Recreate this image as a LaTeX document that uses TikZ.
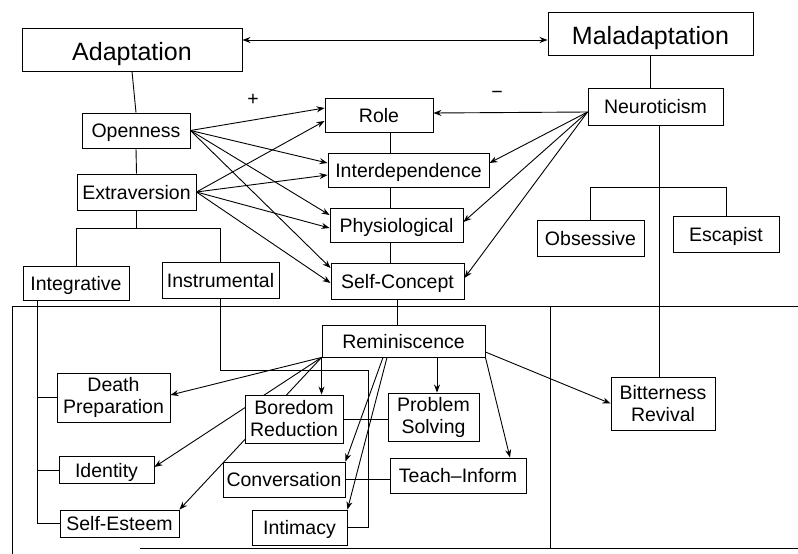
\documentclass[tikz,border=0pt]{standalone}
\usepackage{fontspec}
\setmainfont{Liberation Sans}
\usetikzlibrary{arrows.meta}
\pgfdeclarelayer{bg}
\pgfsetlayers{bg,main}
\begin{document}
\begin{tikzpicture}[x=1pt,y=-1pt,
  box/.style={draw, fill=white, line width=0.9pt, inner sep=0pt,
    font=\fontsize{19.5}{22}\selectfont, text height=16pt, text depth=2pt},
  tbox/.style={draw, fill=white, line width=0.9pt, inner sep=0pt, align=center,
    font=\fontsize{19.5}{22}\selectfont},
  bigbox/.style={draw, fill=white, line width=0.9pt, inner sep=0pt,
    font=\fontsize{25}{28}\selectfont, text height=22pt, text depth=1pt},
  conn/.style={line width=0.9pt},
  arr/.style={conn, -{Stealth[length=8pt,width=6pt]}},
  darr/.style={conn, {Stealth[length=8pt,width=6pt]}-{Stealth[length=8pt,width=6pt]}},
  sign/.style={font=\fontsize{19.5}{22}\selectfont, inner sep=0pt}
]
\useasboundingbox (0,0) rectangle (798,554);

% top level
\node[bigbox, minimum width=220pt, minimum height=43pt] (adapt) at (132,49.5) {Adaptation};
\node[bigbox, minimum width=205pt, minimum height=43pt] (mal) at (650.5,33.5) {Maladaptation};

% left traits
\node[box, minimum width=108pt, minimum height=35pt] (open) at (136,130.5) {Openness};
\node[box, minimum width=119pt, minimum height=36pt] (extra) at (136.5,192) {Extraversion};
\node[box, minimum width=106pt, minimum height=34pt] (integ) at (76,283) {Integrative};
\node[box, minimum width=117pt, minimum height=36pt] (instr) at (220.5,280) {Instrumental};

% modes
\node[box, minimum width=108pt, minimum height=34pt] (role) at (379,115) {Role};
\node[box, minimum width=161pt, minimum height=34pt] (inter) at (408.5,170) {Interdependence};
\node[box, minimum width=133pt, minimum height=34pt] (phys) at (396.5,225) {Physiological};
\node[box, minimum width=133pt, minimum height=36pt] (sc) at (397.5,281) {Self-Concept};

% right traits
\node[box, minimum width=135pt, minimum height=37pt] (neuro) at (655.5,106.5) {Neuroticism};
\node[box, minimum width=107pt, minimum height=36pt] (obs) at (590.5,238) {Obsessive};
\node[box, minimum width=106pt, minimum height=36pt] (esc) at (726,234) {Escapist};

% reminiscence
\node[box, minimum width=163pt, minimum height=32pt] (rem) at (403.5,341) {Reminiscence};
\node[tbox, minimum width=113pt, minimum height=49pt] (death) at (113.5,397.5) {Death\\Preparation};
\node[box, minimum width=95pt, minimum height=27pt] (ident) at (106.5,470) {Identity};
\node[box, minimum width=119pt, minimum height=27pt] (selfest) at (119.5,523.5) {Self-Esteem};
\node[tbox, minimum width=98pt, minimum height=48pt] (bored) at (294,419) {Boredom\\Reduction};
\node[box, minimum width=122pt, minimum height=35pt] (conv) at (284,479.5) {Conversation};
\node[box, minimum width=95pt, minimum height=35pt] (intim) at (299.5,527.5) {Intimacy};
\node[tbox, minimum width=91pt, minimum height=48pt] (prob) at (433.5,417) {Problem\\Solving};
\node[box, minimum width=136pt, minimum height=35pt] (teach) at (458,475.5) {Teach–Inform};
\node[tbox, minimum width=104pt, minimum height=53pt] (bitter) at (663,403.5) {Bitterness\\Revival};

% signs
\node[sign] (plus) at (253,100) {+};
\node[sign] (minus) at (497,95) {−};

% helper coordinates
\coordinate (ytop) at (0,40);
\coordinate (ebr) at (0,228);
\coordinate (obr) at (0,187);
\coordinate (vx) at (659,0);
\coordinate (vm) at (390,0);
\coordinate (ix) at (37,0);
\coordinate (c1) at (368,370);
\coordinate (pv) at (437,0);
\coordinate (ftl) at (12,306);
\coordinate (ftr) at (798,306);
\coordinate (fbl) at (12,554);
\coordinate (fb1) at (140,548);
\coordinate (fb2) at (798,548);
\coordinate (sep1) at (550,306);
\coordinate (sep2) at (550,548);

\begin{pgfonlayer}{bg}
% frame
\draw[conn] (fbl) -- (ftl) -- (ftr);
\draw[conn] (fb1) -- (fb2);
\draw[conn] (sep1) -- (sep2);

% top arrow
\draw[darr] (adapt.east |- ytop) -- (mal.west |- ytop);

% tree lines
\draw[conn] (adapt.south) -- (open.north);
\draw[conn] (open.south) -- (extra.north);
\draw[conn] (extra.south) -- (extra.south |- ebr);
\draw[conn] (integ.north) -- (integ.north |- ebr) -- (instr.north |- ebr) -- (instr.north);
\draw[conn] (mal.south) -- (mal.south |- neuro.north);
\draw[conn] (neuro.south -| vx) -- (bitter.north -| vx);
\draw[conn] (obs.north) -- (obs.north |- obr) -- (esc.north |- obr) -- (esc.north);
\draw[conn] (role.south -| vm) -- (inter.north -| vm);
\draw[conn] (inter.south -| vm) -- (phys.north -| vm);
\draw[conn] (phys.south -| vm) -- (sc.north -| vm);
\draw[conn] (sc.south) -- (sc.south |- rem.north);
\draw[conn] (integ.south -| ix) |- (selfest.west);
\draw[conn] (death.west) -- (death.west -| ix);
\draw[conn] (ident.west) -- (ident.west -| ix);
\draw[conn] (instr.south) |- (c1) |- (intim.east);
\draw[conn] (bored.east) -- (bored.east -| prob.west);
\draw[conn] (conv.east) -- (conv.east -| teach.west);

% openness / extraversion arrows
\draw[arr] (open.east) -- ([yshift=7pt]role.west);
\draw[arr] (open.east) -- ([yshift=7pt]inter.west);
\draw[arr] (open.east) -- ([yshift=10pt]phys.west);
\draw[arr] (open.east) -- ([yshift=13pt]sc.west);
\draw[arr] (extra.east) -- ([yshift=-6pt]role.west);
\draw[arr] (extra.east) -- ([yshift=-5pt]inter.west);
\draw[arr] (extra.east) -- ([yshift=-3pt]phys.west);
\draw[arr] (extra.east) -- ([yshift=-2pt]sc.west);

% neuroticism arrows
\draw[arr] ([yshift=-5.5pt]neuro.west) -- ([yshift=2pt]role.east);
\draw[arr] ([yshift=-5.5pt]neuro.west) -- ([yshift=7pt]inter.east);
\draw[arr] ([yshift=-5.5pt]neuro.west) -- ([yshift=3pt]phys.east);
\draw[arr] ([yshift=-5.5pt]neuro.west) -- ([yshift=3pt]sc.east);

% reminiscence arrows
\draw[arr] (rem.south west) -- ([yshift=2.5pt]death.east);
\draw[arr] (rem.south west) -- ([yshift=3pt]ident.east);
\draw[arr] (rem.south west) -- (selfest.north east);
\draw[arr] (rem.south west) -- (rem.south west |- bored.north);
\draw[arr] ([xshift=-20.5pt]rem.south) -- (conv.north east);
\draw[arr] ([xshift=-16.5pt]rem.south) -- (intim.north east);
\draw[arr] (rem.south -| pv) -- (prob.north -| pv);
\draw[arr] (rem.south east) -- ([xshift=52pt]teach.north);
\draw[arr] ([yshift=-11pt]rem.east) -- (bitter.west);
\end{pgfonlayer}
\end{tikzpicture}
\end{document}
